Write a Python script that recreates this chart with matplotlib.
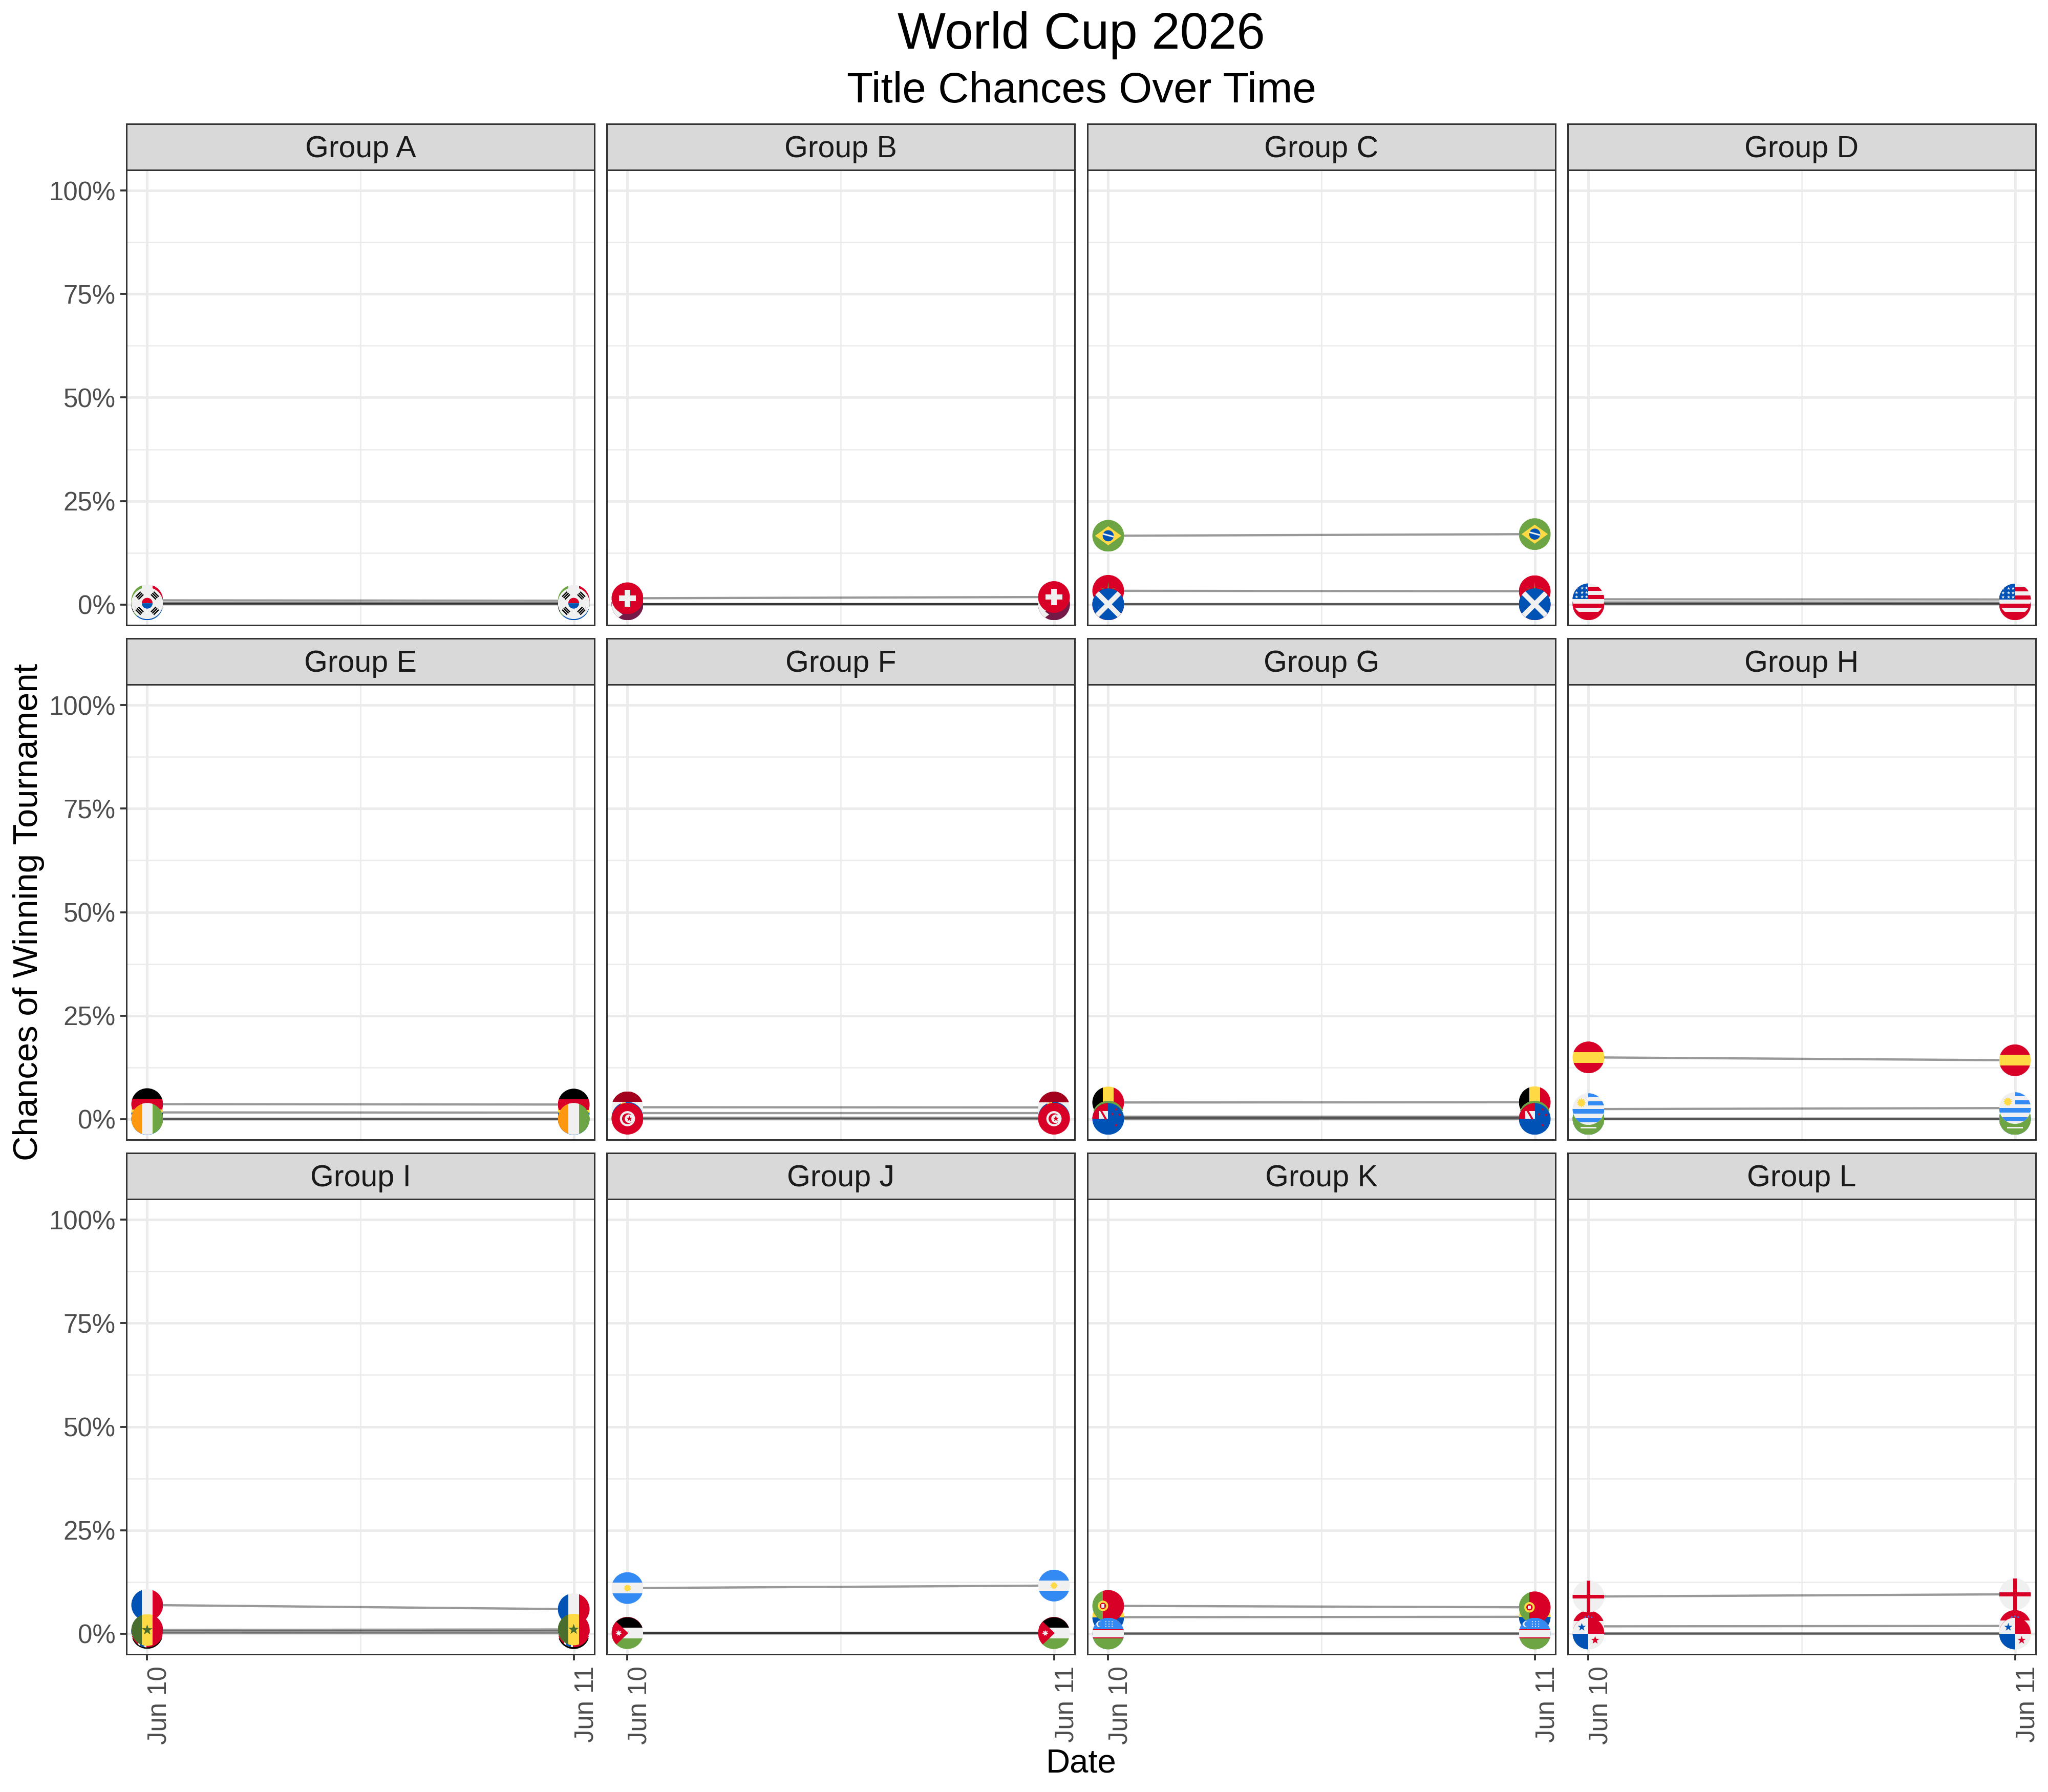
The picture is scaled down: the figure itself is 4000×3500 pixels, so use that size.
import numpy as np
import matplotlib
matplotlib.use('Agg')
import matplotlib.pyplot as plt
import matplotlib.dates as mdates
from matplotlib.patches import Circle, Polygon, Rectangle, Wedge
from matplotlib.transforms import Affine2D, ScaledTranslation

plt.rcParams['font.family'] = ['Liberation Sans', 'DejaVu Sans']

# data (chance of winning in percent, teams in draw order)
group_names = ['Group A', 'Group B', 'Group C', 'Group D', 'Group E', 'Group F',
               'Group G', 'Group H', 'Group I', 'Group J', 'Group K', 'Group L']
dates = ['2026-06-10', '2026-06-11']
date_labels = ['Jun 10', 'Jun 11']
y_ticks = [0, 25, 50, 75, 100]
y_labels = ['0%', '25%', '50%', '75%', '100%']
y_minor = [12.5, 37.5, 62.5, 87.5]

teams = [
    ['czechia', 'mexico', 'south_africa', 'south_korea'],
    ['bosnia', 'canada', 'qatar', 'switzerland'],
    ['brazil', 'haiti', 'morocco', 'scotland'],
    ['australia', 'paraguay', 'turkey', 'usa'],
    ['curacao', 'ecuador', 'germany', 'ivory_coast'],
    ['japan', 'netherlands', 'sweden', 'tunisia'],
    ['belgium', 'egypt', 'iran', 'new_zealand'],
    ['cape_verde', 'saudi_arabia', 'spain', 'uruguay'],
    ['france', 'iraq', 'norway', 'senegal'],
    ['algeria', 'argentina', 'austria', 'jordan'],
    ['colombia', 'dr_congo', 'portugal', 'uzbekistan'],
    ['croatia', 'england', 'ghana', 'panama'],
]
chance_jun10 = [
    [0.15, 1.0, 0.03, 0.3],
    [0.05, 0.12, 0.02, 1.5],
    [16.6, 0.02, 3.3, 0.05],
    [0.2, 0.5, 0.03, 1.25],
    [0.01, 1.6, 3.6, 0.05],
    [1.45, 2.85, 0.3, 0.08],
    [4.0, 0.3, 0.6, 0.03],
    [0.02, 0.03, 14.9, 2.4],
    [6.9, 0.15, 0.5, 0.87],
    [0.1, 11.0, 0.2, 0.12],
    [3.96, 0.03, 6.7, 0.01],
    [1.75, 8.95, 0.05, 0.01],
]
chance_jun11 = [
    [0.15, 0.9, 0.03, 0.3],
    [0.05, 0.12, 0.02, 1.8],
    [17.0, 0.02, 3.2, 0.05],
    [0.2, 0.45, 0.03, 1.2],
    [0.01, 1.55, 3.5, 0.05],
    [1.45, 2.8, 0.3, 0.08],
    [4.05, 0.3, 0.6, 0.03],
    [0.02, 0.03, 14.2, 2.65],
    [5.9, 0.1, 0.55, 1.0],
    [0.1, 11.6, 0.2, 0.12],
    [4.05, 0.03, 6.35, 0.01],
    [1.85, 9.5, 0.05, 0.01],
]

# flag palette
W = '#f0f0f0'
R = '#d80027'
B = '#0052b4'
LB = '#338af3'
G = '#6da544'
DG = '#496e2d'
Y = '#ffda44'
K = '#000000'
O = '#ff9811'
MR = '#a2001d'
QM = '#751a46'


def rect(x0, y0, x1, y1, c):
    return Rectangle((x0, y0), x1 - x0, y1 - y0, fc=c, ec='none')


def circ(x, y, r, c):
    return Circle((x, y), r, fc=c, ec='none')


def poly(pts, c):
    return Polygon(pts, closed=True, fc=c, ec='none')


def star(x, y, r, c, n=5, inner=0.4):
    a = np.pi / 2 + np.arange(2 * n) * np.pi / n
    rr = np.where(np.arange(2 * n) % 2 == 0, r, r * inner)
    return poly(np.column_stack([x + rr * np.cos(a), y + rr * np.sin(a)]), c)


def hbars(colors, cuts=None):
    cuts = cuts if cuts else list(np.linspace(1, -1, len(colors) + 1))
    return [rect(-1, cuts[i + 1], 1, cuts[i], c) for i, c in enumerate(colors)]


def vbars(colors, cuts=None):
    cuts = cuts if cuts else list(np.linspace(-1, 1, len(colors) + 1))
    return [rect(cuts[i], -1, cuts[i + 1], 1, c) for i, c in enumerate(colors)]


def bar_at(x, y, angle, hw, hh, c):
    a = np.radians(angle)
    rot = np.array([[np.cos(a), -np.sin(a)], [np.sin(a), np.cos(a)]])
    pts = np.array([[-hw, -hh], [hw, -hh], [hw, hh], [-hw, hh]]) @ rot.T
    return poly(pts + [x, y], c)


def uk_corner():
    return [rect(-1, 0, 0, 1, R),
            rect(-0.6, 0, 0, 0.5, W),
            bar_at(-0.3, 0.25, -60, 0.32, 0.06, R)]


def korea():
    out = [rect(-1, -1, 1, 1, W)]
    for ang in (45, 135, 225, 315):
        a = np.radians(ang)
        for d in (0.56, 0.68, 0.8):
            out.append(bar_at(d * np.cos(a), d * np.sin(a), ang + 90, 0.22, 0.04, K))
    out += [Wedge((0, 0), 0.34, 0, 180, fc=R, ec='none'),
            Wedge((0, 0), 0.34, 180, 360, fc=B, ec='none')]
    return out


def south_africa():
    return [rect(-1, 0, 1, 1, R), rect(-1, -1, 1, 0, B), rect(-1, -0.3, 1, 0.3, W),
            rect(-1, -0.18, 1, 0.18, G),
            poly([(-1, 1), (0, 0.18), (0, -0.18), (-1, -1)], G),
            poly([(-1, 0.6), (-0.4, 0), (-1, -0.6)], K)]


def qatar():
    pts = [(-1, -1), (-1, 1), (-0.3, 1)]
    for i, yy in enumerate(np.linspace(1, -1, 12)):
        pts.append((-0.3 if i % 2 else -0.55, yy))
    pts += [(-0.3, -1)]
    return [rect(-1, -1, 1, 1, QM), poly(pts, W)]


def swiss():
    return [rect(-1, -1, 1, 1, R), rect(-0.52, -0.17, 0.52, 0.17, W), rect(-0.17, -0.52, 0.17, 0.52, W)]


def brazil():
    return [rect(-1, -1, 1, 1, G), poly([(-0.83, 0), (0, 0.6), (0.83, 0), (0, -0.6)], Y),
            circ(0, 0, 0.35, B), bar_at(0, 0.03, -15, 0.35, 0.05, W)]


def morocco():
    return [rect(-1, -1, 1, 1, R), star(0, 0.02, 0.55, '#8a8b3b', inner=0.15)]


def scotland():
    return [rect(-1, -1, 1, 1, B), bar_at(0, 0, 45, 1.5, 0.16, W), bar_at(0, 0, -45, 1.5, 0.16, W)]


def usa():
    out = hbars([W, R, W, R, W, R, W, R], [1, 0.78, 0.52, 0.26, 0, -0.26, -0.52, -0.78, -1])
    out.append(rect(-1, 0, 0, 1, B))
    for xx in (-0.75, -0.4, -0.12):
        for yy in (0.15, 0.42, 0.7):
            out.append(star(xx, yy, 0.11, W))
    return out


def turkey():
    return [rect(-1, -1, 1, 1, R), circ(-0.1, 0, 0.42, W), circ(0.02, 0, 0.33, R), star(0.45, 0, 0.2, W)]


def tunisia():
    return [rect(-1, -1, 1, 1, R), circ(0, 0, 0.48, W), circ(0, 0, 0.34, R),
            circ(0.1, 0, 0.27, W), star(0.12, 0, 0.2, R)]


def portugal():
    return [rect(-1, -1, -0.33, 1, G), rect(-0.33, -1, 1, 1, R), circ(-0.33, 0, 0.33, Y),
            circ(-0.33, 0, 0.2, R), rect(-0.42, -0.1, -0.24, 0.12, W)]


def uruguay():
    return [rect(-1, -1, 1, 1, W), rect(0, 0.75, 1, 1, LB), rect(0, 0.24, 1, 0.5, LB),
            rect(-1, -0.29, 1, 0, LB), rect(-1, -0.83, 1, -0.57, LB),
            star(-0.45, 0.4, 0.3, Y, n=12, inner=0.65)]


def argentina():
    return hbars([LB, W, LB]) + [star(0, 0, 0.25, Y, n=12, inner=0.65)]


def uzbekistan():
    out = hbars([LB, R, W, R, G], [1, 0.29, 0.22, -0.23, -0.31, -1])
    out += [circ(-0.55, 0.6, 0.2, W), circ(-0.47, 0.6, 0.18, LB)]
    for xx in (-0.15, 0.05, 0.25):
        for yy in (0.45, 0.6, 0.75):
            out.append(circ(xx, yy, 0.035, W))
    return out


def panama():
    return [rect(-1, 0, 0, 1, W), rect(0, 0, 1, 1, R), rect(-1, -1, 0, 0, B), rect(0, -1, 1, 0, W),
            star(-0.42, 0.4, 0.27, B), star(0.42, -0.42, 0.27, R)]


def croatia():
    return hbars([R, W, B], [1, 0.35, -0.33, -1]) + [
        star(-0.2, 0.55, 0.1, '#4a6fd0', n=3, inner=0.5), star(0.2, 0.55, 0.1, '#4a6fd0', n=3, inner=0.5),
        star(0, 0.6, 0.1, '#4a6fd0', n=3, inner=0.5)]


def jordan():
    return hbars([K, W, G]) + [poly([(-1, 1), (0.05, 0), (-1, -1)], R), star(-0.55, 0, 0.2, W, n=7, inner=0.5)]


def new_zealand():
    out = [rect(-1, -1, 1, 1, B)] + uk_corner()
    out += [star(0.5, 0.6, 0.11, R), star(0.27, 0.3, 0.11, R), star(0.72, 0.25, 0.11, R), star(0.5, -0.4, 0.11, R)]
    return out


def senegal():
    return vbars([DG, Y, R]) + [star(0, 0, 0.35, DG)]


def flag_shapes(name):
    simple = {
        'mexico': lambda: vbars([G, W, R]),
        'czechia': lambda: hbars([W, R]) + [poly([(-1, 1), (0.1, 0), (-1, -1)], B)],
        'south_korea': korea,
        'south_africa': south_africa,
        'bosnia': lambda: [rect(-1, -1, 1, 1, B), poly([(-0.4, 1), (0.6, 1), (0.6, -0.6)], Y)],
        'canada': lambda: vbars([R, W, R], [-1, -0.5, 0.5, 1]) + [star(0, 0, 0.4, R, n=7)],
        'qatar': qatar,
        'switzerland': swiss,
        'brazil': brazil,
        'haiti': lambda: hbars([B, R]),
        'morocco': morocco,
        'scotland': scotland,
        'australia': lambda: [rect(-1, -1, 1, 1, B)] + uk_corner(),
        'paraguay': lambda: hbars([R, W, B]),
        'turkey': turkey,
        'usa': usa,
        'curacao': lambda: [rect(-1, -1, 1, 1, B), rect(-1, -0.5, 1, -0.25, Y)],
        'ecuador': lambda: hbars([Y, B, R], [1, 0, -0.5, -1]),
        'germany': lambda: hbars([K, R, Y]),
        'ivory_coast': lambda: vbars([O, W, G]),
        'japan': lambda: [rect(-1, -1, 1, 1, W), circ(0, 0, 0.45, R)],
        'netherlands': lambda: hbars([MR, W, B]),
        'sweden': lambda: [rect(-1, -1, 1, 1, B), rect(-1, -0.17, 1, 0.17, Y), rect(-0.45, -1, -0.12, 1, Y)],
        'tunisia': tunisia,
        'belgium': lambda: vbars([K, Y, R]),
        'egypt': lambda: hbars([R, W, K]),
        'iran': lambda: hbars([G, W, R]),
        'new_zealand': new_zealand,
        'cape_verde': lambda: [rect(-1, -1, 1, 1, B), rect(-1, -0.5, 1, -0.15, W), rect(-1, -0.38, 1, -0.27, R)],
        'saudi_arabia': lambda: [rect(-1, -1, 1, 1, G), rect(-0.5, -0.6, 0.5, -0.5, W)],
        'spain': lambda: hbars([R, Y, R]),
        'uruguay': uruguay,
        'france': lambda: vbars([B, W, R]),
        'iraq': lambda: hbars([R, W, K]),
        'norway': lambda: [rect(-1, -1, 1, 1, R), rect(-1, -0.28, 1, 0.28, W), rect(-0.6, -1, -0.05, 1, W),
                           rect(-1, -0.14, 1, 0.14, B), rect(-0.46, -1, -0.19, 1, B)],
        'senegal': senegal,
        'algeria': lambda: vbars([G, W]) + [circ(0, 0, 0.4, R), circ(0.12, 0, 0.33, W)],
        'argentina': argentina,
        'austria': lambda: hbars([R, W, R]),
        'jordan': jordan,
        'colombia': lambda: hbars([Y, B, R], [1, 0, -0.5, -1]),
        'dr_congo': lambda: [rect(-1, -1, 1, 1, LB), bar_at(0, 0, 45, 1.5, 0.3, Y), bar_at(0, 0, 45, 1.5, 0.2, R)],
        'portugal': portugal,
        'uzbekistan': uzbekistan,
        'croatia': croatia,
        'england': lambda: [rect(-1, -1, 1, 1, W), rect(-1, -0.12, 1, 0.12, R), rect(-0.12, -1, 0.12, 1, R)],
        'ghana': lambda: hbars([R, Y, G]) + [star(0, 0, 0.3, K)],
        'panama': panama,
    }
    return simple[name]()


FIG_W, FIG_H = 4000, 3500
DPI = 250
PX = 72 / DPI  # points per pixel
FLAG_R = 31 / DPI  # inches

fig = plt.figure(figsize=(FIG_W / DPI, FIG_H / DPI), dpi=DPI, facecolor='white')


def px_axes(x0, y0, x1, y1):
    # pixel box with y from the top of the picture
    return fig.add_axes([x0 / FIG_W, 1 - y1 / FIG_H, (x1 - x0) / FIG_W, (y1 - y0) / FIG_H])


def draw_flag(ax, name, x, y):
    trans = Affine2D().scale(FLAG_R) + fig.dpi_scale_trans + ScaledTranslation(x, y, ax.transData)
    clip = Circle((0, 0), 1, transform=trans)
    for shape in flag_shapes(name):
        shape.set_transform(trans)
        ax.add_patch(shape)
        shape.set_clip_path(clip)
        shape.set_zorder(5)


x_nums = mdates.date2num(np.array(dates, dtype='datetime64[D]'))
x_pad = (x_nums[1] - x_nums[0]) * 0.0486
col_left = [247, 1185, 2124, 3062]
row_strip = [242, 1247, 2252]
STRIP_H = 90
PANEL_H = 889
PANEL_W = 914
GRID_COLOR = '#ebebeb'
FRAME = '#333333'

for i, group in enumerate(group_names):
    row, col = i // 4, i % 4
    x0 = col_left[col]
    top = row_strip[row]

    strip = px_axes(x0, top, x0 + PANEL_W, top + STRIP_H)
    strip.set_facecolor('#d9d9d9')
    strip.set_xticks([])
    strip.set_yticks([])
    for s in strip.spines.values():
        s.set_color(FRAME)
        s.set_linewidth(3 * PX)
    strip.text(0.5, 0.45, group, transform=strip.transAxes, ha='center', va='center',
               fontsize=17, color='#1a1a1a')

    ax = px_axes(x0, top + STRIP_H, x0 + PANEL_W, top + STRIP_H + PANEL_H)
    ax.set_xlim(x_nums[0] - x_pad, x_nums[1] + x_pad)
    ax.set_ylim(-5, 105)
    ax.set_axisbelow(True)
    ax.set_xticks(x_nums)
    ax.set_xticks([x_nums.mean()], minor=True)
    ax.set_yticks(y_ticks)
    ax.set_yticks(y_minor, minor=True)
    ax.grid(True, which='major', color=GRID_COLOR, lw=4.9 * PX)
    ax.grid(True, which='minor', color=GRID_COLOR, lw=2.5 * PX)
    ax.tick_params(which='minor', length=0)
    ax.tick_params(axis='both', which='major', length=12 * PX, width=3.8 * PX, color=FRAME)
    ax.tick_params(axis='y', pad=9 * PX, left=col == 0, labelleft=col == 0, labelcolor='#4d4d4d', labelsize=14.7)
    ax.tick_params(axis='x', pad=11 * PX, bottom=row == 2, labelbottom=row == 2, labelcolor='#4d4d4d', labelsize=14.7)
    ax.set_yticklabels(y_labels)
    ax.set_xticklabels(date_labels, rotation=90, ha='left', va='top')
    for s in ax.spines.values():
        s.set_color(FRAME)
        s.set_linewidth(3 * PX)
        s.set_zorder(6)

    for team, a, b in zip(teams[i], chance_jun10[i], chance_jun11[i]):
        ax.plot(x_nums, [a, b], color='black', alpha=0.4, lw=4.4 * PX, solid_capstyle='butt', zorder=3)
    for team, a, b in zip(teams[i], chance_jun10[i], chance_jun11[i]):
        draw_flag(ax, team, x_nums[0], a)
        draw_flag(ax, team, x_nums[1], b)

fig.text(2112 / FIG_W, 1 - 69 / FIG_H, 'World Cup 2026', ha='center', va='center', fontsize=28.7, color='black')
fig.text(2112 / FIG_W, 1 - 178 / FIG_H, 'Title Chances Over Time', ha='center', va='center', fontsize=24.1, color='black')
fig.text(2112 / FIG_W, 1 - 3444 / FIG_H, 'Date', ha='center', va='center', fontsize=18.8, color='black')
fig.text(56 / FIG_W, 1 - 1781 / FIG_H, 'Chances of Winning Tournament', ha='center', va='center',
         rotation=90, fontsize=19.3, color='black')

fig.savefig('out.png', dpi=DPI, facecolor='white')
